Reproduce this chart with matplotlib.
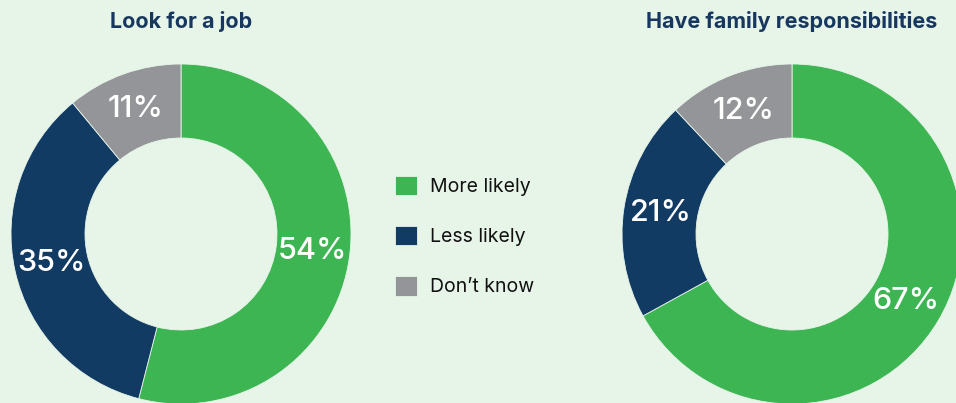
import matplotlib.pyplot as plt

# Survey answers
categories = ["More likely", "Less likely", "Don\u2019t know"]
job_values = [54, 35, 11]
family_values = [67, 21, 12]
titles = ["Look for a job", "Have family responsibilities"]

colors = ["#3db553", "#123b63", "#939598"]
bg = "#e7f5e9"
navy = "#17375e"

plt.rcParams['font.family'] = ['Inter', 'DejaVu Sans']

fig = plt.figure(figsize=(9.56, 4.03), dpi=100, facecolor=bg)
ax = fig.add_axes([0, 0, 1, 1])
ax.set_facecolor(bg)

# pixel-like coordinates, y measured from bottom
centers = [(181, 169), (792, 169)]
radius = 170
ring = 74

wedges = None
for vals, (cx, cy), title in zip([job_values, family_values], centers, titles):
    w, _, autotexts = ax.pie(vals, colors=colors, startangle=90, counterclock=False,
                             center=(cx, cy), radius=radius,
                             autopct='%.0f%%', pctdistance=0.78,
                             wedgeprops=dict(width=ring, edgecolor=bg, linewidth=0.6),
                             textprops=dict(color='white', fontsize=22, fontweight='medium'))
    if wedges is None:
        wedges = w
    ax.text(cx, 381, title, ha='center', va='center', fontsize=15.5,
            fontweight='bold', color=navy)

ax.set_xlim(0, 956)
ax.set_ylim(0, 403)
ax.set_aspect('equal')
ax.axis('off')

ax.legend(wedges, categories, loc='center left', bbox_to_anchor=(395, 167),
          bbox_transform=ax.transData, frameon=False, fontsize=14,
          handlelength=1.15, handleheight=1.15, handletextpad=0.65,
          labelspacing=1.55, borderpad=0, borderaxespad=0, labelcolor='#111111')

fig.savefig("out.png", dpi=100, facecolor=bg)
